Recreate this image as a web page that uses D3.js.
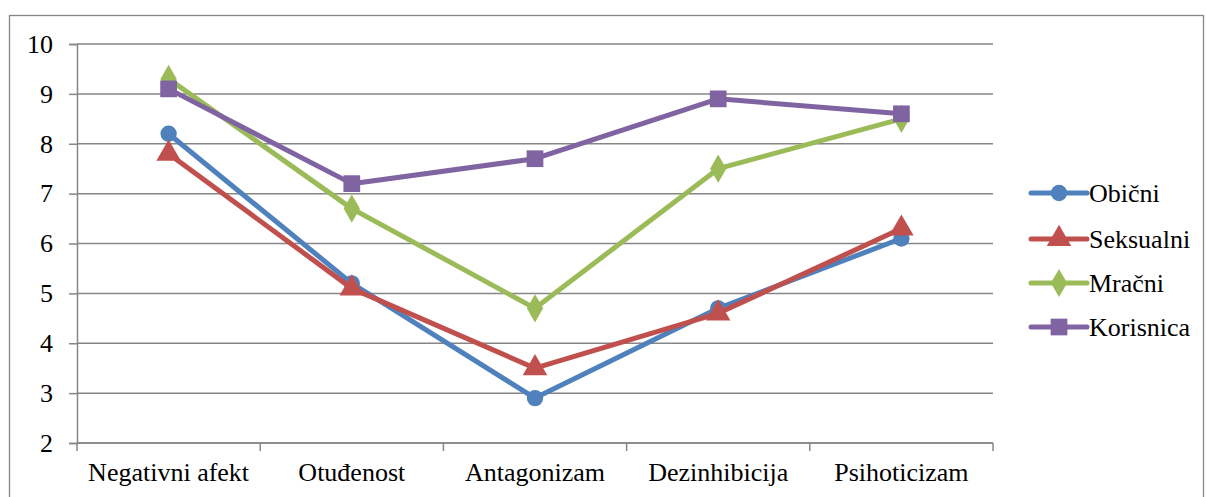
<!DOCTYPE html>
<html><head><meta charset="utf-8">
<script src="https://cdn.jsdelivr.net/npm/d3@7"></script>
<style>body{margin:0;background:#fff}svg{display:block}</style>
</head><body><svg id="c" width="1206" height="497"></svg>
<script>
const categories = ["Negativni afekt","Otuđenost","Antagonizam","Dezinhibicija","Psihoticizam"];
const seriesNames = ["Obični","Seksualni","Mračni","Korisnica"];
const obicni    = [8.2,5.2,2.9,4.7,6.1];
const seksualni = [7.8,5.1,3.5,4.6,6.3];
const mracni    = [9.3,6.7,4.7,7.5,8.5];
const korisnica = [9.1,7.2,7.7,8.9,8.6];
const yTicks = [2,3,4,5,6,7,8,9,10];

const seriesValues = [obicni, seksualni, mracni, korisnica];
const colors = ["#4F81BD","#C0504D","#9BBB59","#8064A2"];
const shapes = [d3.symbolCircle, d3.symbolTriangle, d3.symbolDiamond, d3.symbolSquare];
const sizes = [210, 260, 230, 280];
const FONT = "Liberation Serif";
const FS = 26;

const svg = d3.select("#c");
const grid = "#868686";
svg.append("rect").attr("x",9.5).attr("y",15.5).attr("width",1194).attr("height",500)
  .attr("fill","none").attr("stroke",grid).attr("stroke-width",1.3);

const L=77, R=993, T=44, B=443;
const x = d3.scaleBand().domain(categories).range([L,R]);
const y = d3.scaleLinear().domain([2,10]).range([B,T]);

svg.append("g").selectAll("line").data(yTicks).join("line")
  .attr("x1",L).attr("x2",R).attr("y1",d=>y(d)).attr("y2",d=>y(d))
  .attr("stroke",grid).attr("stroke-width",1.5);

const ya = svg.append("g").attr("transform",`translate(${L},0)`)
  .call(d3.axisLeft(y).tickValues(yTicks).tickSize(8).tickPadding(16).tickFormat(d3.format("d")));
ya.attr("font-family",FONT).attr("font-size",FS);
ya.select(".domain").attr("stroke",grid).attr("stroke-width",1.5);
ya.selectAll(".tick line").attr("stroke",grid).attr("stroke-width",1.5);
ya.selectAll("text").attr("fill","#000");

const xa = svg.append("g").attr("transform",`translate(0,${B})`)
  .call(d3.axisBottom(x).tickSize(0).tickPadding(20));
xa.attr("font-family",FONT).attr("font-size",FS);
xa.select(".domain").attr("stroke",grid).attr("stroke-width",1.5).attr("d",`M${L},0H${R}`);
xa.selectAll("text").attr("fill","#000");
const bounds = categories.map(c=>x(c)).concat([R]);
svg.append("g").selectAll("line").data(bounds).join("line")
  .attr("x1",d=>d).attr("x2",d=>d).attr("y1",B).attr("y2",B+8)
  .attr("stroke",grid).attr("stroke-width",1.5);

const cx = c => x(c) + x.bandwidth()/2;
const line = d3.line().x((d,i)=>cx(categories[i])).y(d=>y(d));

seriesValues.forEach((vals,si)=>{
  const g = svg.append("g");
  g.append("path").datum(vals).attr("d",line).attr("fill","none")
    .attr("stroke",colors[si]).attr("stroke-width",5).attr("stroke-linejoin","round").attr("stroke-linecap","round");
  g.selectAll("path.m").data(vals).join("path").attr("class","m")
    .attr("transform",(d,i)=>`translate(${cx(categories[i])},${y(d)})`)
    .attr("d",d3.symbol().type(shapes[si]).size(sizes[si])).attr("fill",colors[si]);
});

const legY = [193,239,283,327];
const lg = svg.append("g").attr("font-family",FONT).attr("font-size",FS);
seriesNames.forEach((n,i)=>{
  const g = lg.append("g").attr("transform",`translate(0,${legY[i]})`);
  g.append("line").attr("x1",1031).attr("x2",1087).attr("y1",0).attr("y2",0)
    .attr("stroke",colors[i]).attr("stroke-width",5).attr("stroke-linecap","round");
  g.append("path").attr("transform","translate(1059,0)")
    .attr("d",d3.symbol().type(shapes[i]).size(sizes[i])).attr("fill",colors[i]);
  g.append("text").attr("x",1089).attr("y",0).attr("dy","0.35em").text(n);
});
</script></body></html>
